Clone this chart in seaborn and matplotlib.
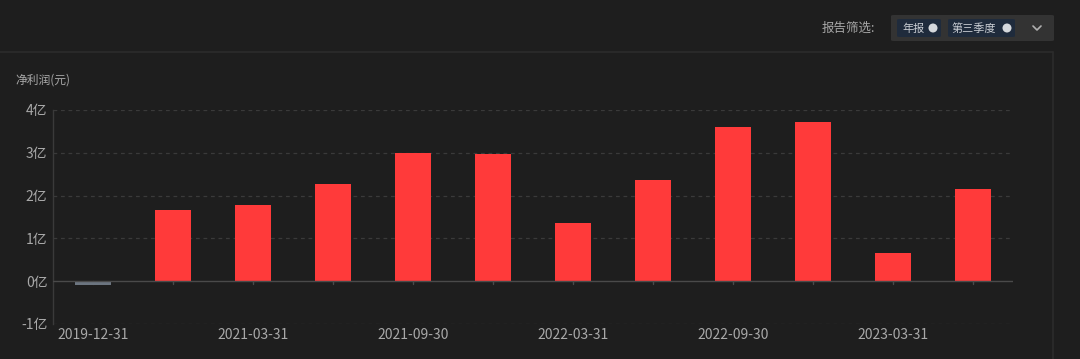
import matplotlib
matplotlib.use("Agg")
import matplotlib.pyplot as plt
import seaborn as sns
import pandas as pd
from matplotlib.patches import FancyBboxPatch, Ellipse
from matplotlib.lines import Line2D

dates = ["2019-12-31", "2020-12-31", "2021-03-31", "2021-06-30", "2021-09-30", "2021-12-31",
         "2022-03-31", "2022-06-30", "2022-09-30", "2022-12-31", "2023-03-31", "2023-06-30"]
profit_yi = [-0.09, 1.66, 1.78, 2.27, 2.99, 2.97, 1.36, 2.36, 3.60, 3.72, 0.65, 2.15]
yticks = [-1, 0, 1, 2, 3, 4]
ytick_labels = ["-1亿", "0亿", "1亿", "2亿", "3亿", "4亿"]

BG = "#1e1e1e"
RED = "#ff3a3a"
GRAY_BAR = "#6c7580"
TXT = "#a8a8a8"

sns.set_theme(style="dark")
plt.rcParams['font.family'] = ['Noto Sans CJK SC', 'DejaVu Sans']

df = pd.DataFrame({"date": dates, "value": profit_yi})
colors = [RED if v >= 0 else GRAY_BAR for v in profit_yi]

fig = plt.figure(figsize=(10.8, 3.59), dpi=100, facecolor=BG)
ax = fig.add_axes([53/1080, 1-324/359, 960/1080, 214/359])
ax.set_facecolor(BG)

sns.barplot(data=df, x="date", y="value", hue="date", palette=colors, legend=False,
            width=0.46, saturation=1, ax=ax, zorder=3, linewidth=0, edgecolor="none")

ax.set_xlim(-0.5, len(dates) - 0.5)
ax.set_ylim(-1, 4)
ax.set_yticks(yticks)
ax.set_yticklabels(ytick_labels, color=TXT, fontsize=10)
for y in [-1, 1, 2, 3, 4]:
    ax.axhline(y, color="#3a3a3a", lw=0.9, ls=(0, (3, 3)), zorder=1)
ax.axhline(0, color="#4a4a4a", lw=1, zorder=4)

ax.set_xticks(range(len(dates)))
ax.set_xticklabels([d if i % 2 == 0 else "" for i, d in enumerate(dates)], color=TXT, fontsize=10)
ax.tick_params(axis="x", length=0, pad=3)
ax.tick_params(axis="y", length=0, pad=4)
ax.set_xlabel("")
ax.set_ylabel("")
ax.grid(False)
for s in ["top", "right", "bottom"]:
    ax.spines[s].set_visible(False)
ax.spines["left"].set_color("#3a3a3a")
ax.spines["left"].set_linewidth(1)

# small ticks under zero line at each category
for i in range(len(dates)):
    ax.plot([i, i], [0, -0.06], color="#4a4a4a", lw=1, zorder=2, clip_on=False)

# panel borders
fig.add_artist(Line2D([0, 1053/1080], [1-52/359, 1-52/359], color="#2c2c2c", lw=1.2))
fig.add_artist(Line2D([1053/1080, 1053/1080], [0, 1-52/359], color="#2c2c2c", lw=1.2))

# y-axis title
fig.text(15/1080, 1-80/359, "净利润(元)", color=TXT, fontsize=8.5, va="center", ha="left")

# filter header
fig.text(822/1080, 1-28/359, "报告筛选:", color=TXT, fontsize=9, va="center", ha="left")
W, H = 1080, 359
def fbox(x0, y0, x1, y1, fc, r=3):
    p = FancyBboxPatch((x0/W, 1-y1/H), (x1-x0)/W, (y1-y0)/H,
                       boxstyle=f"round,pad=0,rounding_size={r/W}", transform=fig.transFigure,
                       fc=fc, ec="none")
    fig.add_artist(p)
fbox(891, 15, 1054, 41, "#333333")
fbox(897, 19, 941, 37, "#1f2b3c")
fbox(948, 19, 1015, 37, "#1f2b3c")
fig.text(902/W, 1-28.5/H, "年报", color="#c8ccd2", fontsize=8, va="center", ha="left")
fig.text(952/W, 1-28.5/H, "第三季度", color="#c8ccd2", fontsize=8, va="center", ha="left")
for cx in [933, 1007]:
    fig.add_artist(Ellipse((cx/W, 1-28/H), 9/W, 9/H, transform=fig.transFigure, fc="#d5d8dc", ec="none"))
# chevron
fig.add_artist(Line2D([1033/W, 1037/W, 1041/W], [1-26/H, 1-30/H, 1-26/H], color="#b0b0b0", lw=1.2))

fig.savefig("out.png", dpi=100, facecolor=BG)
